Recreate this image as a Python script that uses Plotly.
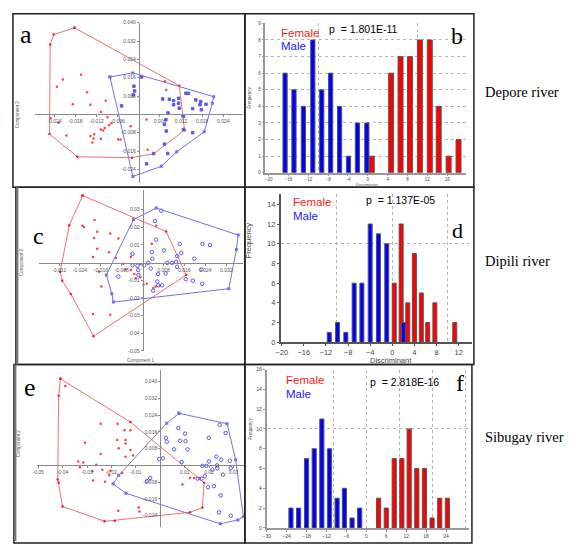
import plotly.graph_objects as go

W, H = 577, 546

# ---------------- DATA ----------------
# Panel a (Depore river) - PCA scatter
a_f_x = [-0.0164, -0.0216, -0.0233, -0.0147, -0.0188, -0.0138, -0.0094, -0.0108, -0.0089, -0.0078,
         -0.0085, -0.0097, -0.0108, -0.0101, -0.0127, -0.0138, -0.0129, -0.0108, -0.0132, -0.0206,
         -0.0228, -0.0059, -0.0052, -0.0023, 0.0022, 0.0025, 0.0078, 0.0074, -0.0251]
a_f_y = [0.0173, 0.0152, 0.0120, 0.0096, 0.0044, 0.0042, 0.0059, 0.0010, -0.0013, -0.0039,
         -0.0047, -0.0059, -0.0066, -0.0070, -0.0087, -0.0095, -0.0105, -0.0106, -0.0123, -0.0092,
         -0.0037, -0.0110, -0.0110, -0.0052, -0.0022, -0.0155, 0.0106, 0.0145, -0.0016]
a_f_hx = [-0.0183, -0.0242, -0.0252, -0.0254, -0.0175, -0.0020, 0.0042, 0.0130, 0.0115]
a_f_hy = [0.0378, 0.0348, 0.0305, -0.0086, -0.0185, -0.0189, -0.0172, -0.0069, 0.0125]
a_m_x = [0.0008, -0.0014, -0.0012, -0.0016, -0.0049, 0.0068, 0.0087, 0.0099, 0.0113, 0.0134,
         0.0141, 0.0113, 0.0099, 0.0115, 0.0083, 0.0077, 0.0073, 0.0078, 0.0153, 0.0162,
         0.0176, 0.0191, 0.0174, 0.0178, 0.0153, 0.0073, 0.0082, 0.0042, 0.0022, 0.0127, 0.0127]
a_m_y = [0.0163, 0.0123, 0.0102, 0.0085, 0.0037, 0.0067, 0.0066, 0.0060, 0.0070, 0.0092,
         0.0092, 0.0049, 0.0042, 0.0027, 0.0006, -0.0023, -0.0044, -0.0073, 0.0025, 0.0063,
         0.0056, 0.0044, 0.0042, 0.0020, -0.0080, -0.0130, -0.0171, -0.0171, -0.0216, -0.0009, -0.0066]
a_m_hx = [-0.0082, -0.0017, 0.0213, 0.0209, 0.0186, 0.0108, 0.0064, -0.0017]
a_m_hy = [0.0163, 0.0181, 0.0077, 0.0049, -0.0076, -0.0163, -0.0227, -0.0271]
a_xticks = [-0.030, -0.024, -0.018, -0.012, -0.006, 0.006, 0.012, 0.018, 0.024]
a_yticks = [-0.024, -0.016, -0.008, 0.008, 0.016, 0.024, 0.032, 0.040]

# Panel b (Depore river) - discriminant histogram
b_m_x = [-16.7, -14.9, -13.0, -11.1, -9.3, -7.5, -5.7, -3.9, -2.1, -0.2]
b_m_n = [6, 5, 4, 8, 5, 6, 4, 1, 3, 3]
b_f_x = [0.8, 4.7, 6.6, 8.5, 10.5, 12.5, 14.3, 16.3, 18.3]
b_f_n = [1, 6, 7, 7, 8, 8, 4, 1, 2]
b_xticks = [-20, -16, -12, -8, -4, 0, 4, 8, 12, 16]
b_yticks = [0, 1, 2, 3, 4, 5, 6, 7, 8, 9]

# Panel c (Dipili river) - PCA scatter
c_f_x = [-0.0230, -0.0225, -0.0184, -0.0174, -0.0186, -0.0174, -0.0190, -0.0124, -0.0093, -0.0129,
         -0.0102, -0.0074, -0.0066, -0.0045, -0.0045, -0.0032, -0.0026, -0.0009, 0.0003, 0.0016,
         0.0041, 0.0050, 0.0066, 0.0035, 0.0052, -0.0158, -0.0190, -0.0124, -0.0167, -0.0009]
c_f_y = [0.0208, 0.0202, 0.0241, 0.0174, 0.0139, 0.0078, 0.0032, 0.0165, 0.0137, 0.0059,
         0.0026, -0.0006, -0.0039, 0.0032, -0.0042, -0.0064, -0.0089, -0.0083, -0.0126, -0.0120,
         -0.0144, -0.0135, -0.0131, 0.0106, 0.0208, -0.0135, -0.0292, -0.0296, -0.0052, -0.0009]
c_f_hx = [-0.0230, 0.0090, 0.0167, -0.0188, -0.0275, -0.0308, -0.0316, -0.0281]
c_f_hy = [0.0380, 0.0176, -0.0070, -0.0417, -0.0178, -0.0103, -0.0052, 0.0211]
c_m_x = [0.0047, 0.0052, 0.0071, 0.0081, 0.0035, 0.0037, 0.0021, 0.0006, -0.0020, -0.0039,
         -0.0039, -0.0017, -0.0016, 0.0031, 0.0059, 0.0056, 0.0075, 0.0060, 0.0088, 0.0113,
         0.0132, 0.0142, 0.0148, 0.0132, 0.0165, 0.0192, 0.0198, 0.0228, 0.0225, 0.0229,
         0.0258, -0.0093, 0.0040, 0.0094, 0.0128]
c_m_y = [0.0235, 0.0130, 0.0294, 0.0069, 0.0059, 0.0022, -0.0002, -0.0015, -0.0018, 0.0050,
         -0.0015, -0.0042, -0.0070, -0.0033, -0.0064, -0.0107, -0.0129, -0.0129, -0.0061, -0.0002,
         0.0036, 0.0106, 0.0054, -0.0024, -0.0094, -0.0103, 0.0022, -0.0120, -0.0039, 0.0106,
         0.0100, -0.0079, -0.0159, -0.0002, 0.0004]
c_m_hx = [-0.0035, 0.0052, 0.0366, 0.0359, 0.0330, -0.0112, -0.0118, -0.0139]
c_m_hy = [0.0244, 0.0309, 0.0156, 0.0074, -0.0148, -0.0224, -0.0176, -0.0070]
c_xticks = [-0.040, -0.032, -0.024, -0.016, -0.008, 0.008, 0.016, 0.024, 0.032]
c_yticks = [-0.05, -0.04, -0.03, -0.02, -0.01, 0.01, 0.02, 0.03]

# Panel d (Dipili river) - discriminant histogram
d_m_x = [-11.4, -9.9, -8.4, -6.9, -5.5, -4.0, -2.5, -1.0, 2.0]
d_m_n = [1, 2, 1, 6, 6, 12, 11, 10, 2]
d_f_x = [0.35, 1.6, 2.8, 4.0, 5.25, 6.4, 7.7, 11.3]
d_f_n = [6, 12, 4, 9, 5, 2, 4, 2]
d_xticks = [-20, -16, -12, -8, -4, 0, 4, 8, 12]
d_yticks = [0, 2, 4, 6, 8, 10, 12, 14]

# Panel e (Sibugay river) - PCA scatter
e_f_x = [-0.0389, -0.0244, -0.0308, -0.0244, -0.0336, -0.0315, -0.0262, -0.0329, -0.0278, -0.0237,
         -0.0203, -0.0156, -0.0275, -0.0226, -0.0209, -0.0174, -0.0146, -0.0122, -0.0142, -0.0142,
         -0.0176, -0.0170, -0.0122, -0.0111, -0.0142, -0.0088, -0.0085, -0.0172, 0.0091, 0.0122,
         0.0139, 0.0163]
e_f_y = [0.0380, 0.0199, 0.0108, 0.0055, 0.0019, 0.0014, 0.0003, -0.0009, -0.0028, -0.0020,
         -0.0025, -0.0036, -0.0072, -0.0078, -0.0047, 0.0199, 0.0168, 0.0168, 0.0121, 0.0105,
         0.0121, 0.0082, 0.0074, 0.0047, 0.0042, -0.0201, -0.0220, -0.0216, -0.0091, -0.0060,
         -0.0060, -0.0060]
e_f_hx = [-0.0409, -0.0122, 0.0180, 0.0173, 0.0122, -0.0186, -0.0228, -0.0400, -0.0416, -0.0420, -0.0416]
e_f_hy = [0.0414, 0.0207, -0.0083, -0.0201, -0.0224, -0.0264, -0.0267, -0.0196, -0.0083, -0.0067, 0.0333]
e_m_x = [0.0074, 0.0102, 0.0023, 0.0027, 0.0081, 0.0104, 0.0112, 0.0057, 0.0011, -0.0004,
         0.0088, 0.0200, 0.0230, 0.0250, 0.0285, 0.0173, 0.0189, 0.0214, 0.0233, 0.0289,
         0.0183, 0.0153, 0.0196, 0.0220, 0.0248, -0.0041, -0.0054, 0.0199, 0.0244, 0.0268,
         0.0241, 0.0289, 0.0257, 0.0169, 0.0234]
e_m_y = [0.0179, 0.0152, 0.0132, 0.0113, 0.0118, 0.0116, 0.0077, 0.0077, 0.0034, 0.0030,
         0.0016, 0.0019, 0.0042, 0.0027, 0.0022, -0.0002, -0.0002, -0.0020, 0.0000, -0.0013,
         -0.0052, -0.0063, -0.0104, -0.0099, -0.0143, -0.0060, -0.0075, 0.0132, 0.0194, 0.0155,
         -0.0224, -0.0240, -0.0044, -0.0063, -0.0013]
e_m_hx = [0.0077, 0.0274, 0.0309, 0.0341, 0.0318, 0.0246, -0.0140, -0.0193, -0.0170, 0.0027]
e_m_hy = [0.0249, 0.0199, 0.0027, -0.0245, -0.0260, -0.0279, -0.0133, -0.0088, -0.0047, 0.0202]
e_xticks = [-0.05, -0.04, -0.03, -0.02, -0.01, 0.01, 0.02, 0.03]
e_yticks = [-0.024, -0.016, -0.008, 0.008, 0.016, 0.024, 0.032, 0.040]

# Panel f (Sibugay river) - discriminant histogram
f_m_x = [-22.7, -20.4, -18.0, -15.7, -13.4, -11.1, -8.8, -6.6, -4.3, -2.0]
f_m_n = [2, 2, 7, 8, 11, 8, 3, 4, 1, 2]
f_f_x = [3.7, 6.0, 8.4, 10.7, 12.9, 15.2, 17.5, 19.8, 22.1, 24.4]
f_f_n = [3, 2, 7, 7, 10, 6, 6, 1, 3, 3]
f_xticks = [-30, -24, -18, -12, -6, 0, 6, 12, 18, 24]
f_yticks = [0, 2, 4, 6, 8, 10, 12, 14, 16]

p_values = ["p  = 1.801E-11", "p  = 1.137E-05", "p  = 2.818E-16"]
rivers = ["Depore river", "Dipili river", "Sibugay river"]
letters = ["a", "b", "c", "d", "e", "f"]

# ---------------- STYLE / LAYOUT HELPERS ----------------
RED = "#ff1a1a"
BLUE = "#1a1aff"
RED_L = "#f07070"
BLUE_L = "#7272e6"
SANS = "Liberation Sans, Arial, sans-serif"
SERIF = "Liberation Serif, Times New Roman, serif"


def xdom(p0, p1):
    return [p0 / W, p1 / W]


def ydom(top, bottom):
    return [1 - bottom / H, 1 - top / H]


def zero_pos(dom, rng):
    return dom[0] + (0 - rng[0]) / (rng[1] - rng[0]) * (dom[1] - dom[0])


fig = go.Figure()
layout = dict(width=W, height=H, margin=dict(l=0, r=0, t=0, b=0),
              paper_bgcolor="white", plot_bgcolor="rgba(0,0,0,0)",
              showlegend=False, barmode="overlay")


def scatter_panel(k, xpx, ypx, xr, yr, xt, yt, xfmt, yfmt, fx, fy, fhx, fhy, mx, my, mhx, mhy, msym, msize):
    xs = "x" if k == 1 else "x%d" % k
    ys = "y" if k == 1 else "y%d" % k
    xd = xdom(*xpx)
    yd = ydom(*ypx)
    axstyle = dict(showline=True, linecolor="#8a8a8a", linewidth=1, ticks="outside", ticklen=2,
                   tickcolor="#8a8a8a", tickfont=dict(size=5, color="#555", family=SANS),
                   showgrid=False, zeroline=False, fixedrange=True)
    layout["xaxis" if k == 1 else "xaxis%d" % k] = dict(
        domain=xd, range=xr, anchor="free", position=zero_pos(yd, yr),
        tickvals=xt, ticktext=[xfmt.format(v) for v in xt], **axstyle)
    layout["yaxis" if k == 1 else "yaxis%d" % k] = dict(
        domain=yd, range=yr, anchor="free", position=zero_pos(xd, xr),
        tickvals=yt, ticktext=[yfmt.format(v) for v in yt], **axstyle)
    # hulls
    fig.add_trace(go.Scatter(x=fhx + fhx[:1], y=fhy + fhy[:1], mode="lines+markers", xaxis=xs, yaxis=ys,
                             line=dict(color=RED_L, width=1), marker=dict(color=RED, size=2.5)))
    fig.add_trace(go.Scatter(x=mhx + mhx[:1], y=mhy + mhy[:1], mode="lines+markers", xaxis=xs, yaxis=ys,
                             line=dict(color=BLUE_L, width=1), marker=dict(color=BLUE_L, size=3, symbol="square")))
    fig.add_trace(go.Scatter(x=fx, y=fy, mode="markers", xaxis=xs, yaxis=ys,
                             marker=dict(color="#ff4040", size=2.5)))
    fig.add_trace(go.Scatter(x=mx, y=my, mode="markers", xaxis=xs, yaxis=ys,
                             marker=dict(color="#5a5aee", size=msize, symbol=msym,
                                         line=dict(width=1, color="#5a5aee"))))


def hist_panel(k, xpx, ypx, xr, yr, xt, yt, fx, fn, mx, mn, fw, mw, tfs, gx, gy, lw, lc, tl):
    xs = "x%d" % k
    ys = "y%d" % k
    xd = xdom(*xpx)
    yd = ydom(*ypx)
    base = dict(showline=True, linecolor=lc, linewidth=lw, ticks="outside", ticklen=tl, tickcolor=lc,
                tickfont=dict(size=tfs, color="#444", family=SANS), showgrid=False, zeroline=False,
                fixedrange=True)
    layout["xaxis%d" % k] = dict(domain=xd, range=xr, anchor=ys, tickvals=xt,
                                 minor=dict(tickvals=gx, showgrid=True, gridcolor="#b5b5b5",
                                            griddash="dot", gridwidth=1, ticks=""), **base)
    layout["yaxis%d" % k] = dict(domain=yd, range=yr, anchor=xs, tickvals=yt,
                                 minor=dict(tickvals=gy, showgrid=True, gridcolor="#b5b5b5",
                                            griddash="dot", gridwidth=1, ticks=""), **base)
    fig.add_trace(go.Bar(x=fx, y=fn, width=fw, xaxis=xs, yaxis=ys,
                         marker=dict(color="#ff0000", line=dict(color="#555", width=1))))
    fig.add_trace(go.Bar(x=mx, y=mn, width=mw, xaxis=xs, yaxis=ys,
                         marker=dict(color="#0000ff", line=dict(color="#555", width=1))))


# Panel a
scatter_panel(1, (30, 240), (20, 183), [-0.0296, 0.0296], [-0.0301, 0.040], a_xticks, a_yticks,
              "{:.3f}", "{:.3f}", a_f_x, a_f_y, a_f_hx, a_f_hy, a_m_x, a_m_y, a_m_hx, a_m_hy, "square", 2.5)
# Panel b
hist_panel(2, (262, 465), (20.7, 172.3), [-20.8, 19.8], [0, 9], b_xticks, b_yticks,
           b_f_x, b_f_n, b_m_x, b_m_n, 1.0, 0.85, 4.5, [-10, 10, 19.6], [1, 2, 3, 4, 5, 6, 7, 8, 9],
           2, "#999", 1)
# Panel c
scatter_panel(3, (34, 240), (190, 353), [-0.0398, 0.0384], [-0.050, 0.041], c_xticks, c_yticks,
              "{:.3f}", "{:.2f}", c_f_x, c_f_y, c_f_hx, c_f_hy, c_m_x, c_m_y, c_m_hx, c_m_hy, "circle-open", 3.5)
# Panel d
hist_panel(4, (278, 471), (194.3, 344.3), [-20.2, 14.4], [0, 15], d_xticks, d_yticks,
           d_f_x, d_f_n, d_m_x, d_m_n, 0.72, 0.72, 7.5, [-10, 0, 10], [10], 1.5, "#555", 2)
# Panel e
scatter_panel(5, (32, 242), (372, 532), [-0.0506, 0.0347], [-0.0295, 0.0458], e_xticks, e_yticks,
              "{:.2f}", "{:.3f}", e_f_x, e_f_y, e_f_hx, e_f_hy, e_m_x, e_m_y, e_m_hx, e_m_hy, "circle-open", 3.5)
# Panel f
hist_panel(6, (264, 468), (372, 532.7), [-30, 30.9], [0, 16], f_xticks, f_yticks,
           f_f_x, f_f_n, f_m_x, f_m_n, 1.25, 1.25, 5, [-10, 0, 10, 20, 30], [10], 2, "#999", 2)

# ---------------- annotations ----------------
ann = []


def txt(x, y, s, size, color="black", family=SANS, angle=0, xanchor="center"):
    ann.append(dict(x=x / W, y=1 - y / H, xref="paper", yref="paper", text=s, showarrow=False,
                    font=dict(size=size, color=color, family=family), textangle=angle,
                    xanchor=xanchor, yanchor="middle"))


# panel letters
txt(21, 32, letters[0], 26, family=SERIF)
txt(456, 33, letters[1], 24, family=SERIF)
txt(34, 236, letters[2], 24, family=SERIF)
txt(456, 231, letters[3], 22, family=SERIF)
txt(25, 390, letters[4], 26, family=SERIF)
txt(459, 386, letters[5], 24, family=SERIF)

# legends & p values
for (lx, ly, px_, py_), p in zip([(276, 30, 325, 26), (289, 202, 362, 200), (281, 383, 366, 385)], p_values):
    txt(lx, ly, "Female", 11.5, RED, xanchor="left")
    txt(lx, ly + 14, "Male", 11.5, BLUE, xanchor="left")
    txt(px_, py_, p, 10.5, xanchor="left")

# river labels
for y, r in zip([90, 262, 440], rivers):
    txt(482, y, r, 14.5, family=SERIF, xanchor="left")

# axis titles
txt(12, 113, "Component 2", 4.5, "#555", angle=-90)
txt(16, 263, "Component 2", 4.5, "#555", angle=-90)
txt(137, 363, "Component 1", 4.5, "#555")
txt(14, 447, "Component 2", 4.5, "#555", angle=-90)
txt(247, 96, "Frequency", 4.5, "#555", angle=-90)
txt(366, 184.5, "Discriminant", 4, "#555")
txt(246, 241, "Frequency", 7.5, "#444", angle=-90)
txt(389, 363, "Discriminant", 7.5, "#444")
txt(248, 432, "Frequency", 4.5, "#555", angle=-90)
layout["annotations"] = ann

# ---------------- frames ----------------
shapes = []
for (x0, y0, x1, y1, lw, col) in [(8, 11, 242, 187, 1.5, "#222"), (242, 11, 473, 187, 1.5, "#222"),
                                  (11, 187, 242, 367, 1.5, "#222"), (242, 187, 473, 367, 1.5, "#222"),
                                  (9, 367, 242, 548, 1.5, "#222"), (242, 367, 471, 548, 1.5, "#222")]:
    shapes.append(dict(type="rect", xref="paper", yref="paper", x0=x0 / W, x1=x1 / W,
                       y0=1 - y1 / H, y1=1 - y0 / H, line=dict(color=col, width=lw)))
shapes.append(dict(type="line", xref="paper", yref="paper", x0=12.5 / W, x1=12.5 / W,
                   y0=1 - 367 / H, y1=1 - 187 / H, line=dict(color="#777", width=2)))
shapes.append(dict(type="line", xref="paper", yref="paper", x0=10.5 / W, x1=10.5 / W,
                   y0=0, y1=1 - 367 / H, line=dict(color="#777", width=2)))
layout["shapes"] = shapes

fig.update_layout(**layout)
fig.write_html("out.html")
